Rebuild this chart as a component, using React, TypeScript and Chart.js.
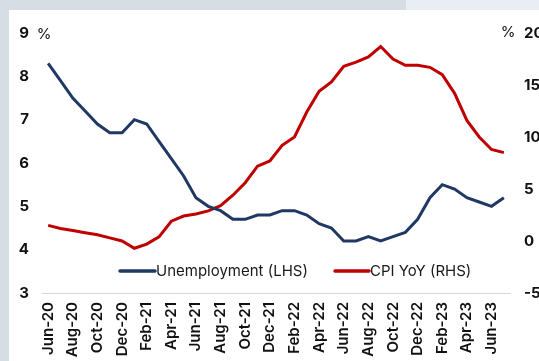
import React, { useEffect, useRef } from "react";
import { Chart, registerables } from "chart.js";

Chart.register(...registerables);

const months = [
  "Jun-20", "Jul-20", "Aug-20", "Sep-20", "Oct-20", "Nov-20", "Dec-20",
  "Jan-21", "Feb-21", "Mar-21", "Apr-21", "May-21", "Jun-21", "Jul-21", "Aug-21", "Sep-21", "Oct-21", "Nov-21", "Dec-21",
  "Jan-22", "Feb-22", "Mar-22", "Apr-22", "May-22", "Jun-22", "Jul-22", "Aug-22", "Sep-22", "Oct-22", "Nov-22", "Dec-22",
  "Jan-23", "Feb-23", "Mar-23", "Apr-23", "May-23", "Jun-23", "Jul-23",
];

const unemployment = [
  8.3, 7.9, 7.5, 7.2, 6.9, 6.7, 6.7,
  7.0, 6.9, 6.5, 6.1, 5.7, 5.2, 5.0, 4.9, 4.7, 4.7, 4.8, 4.8,
  4.9, 4.9, 4.8, 4.6, 4.5, 4.2, 4.2, 4.3, 4.2, 4.3, 4.4, 4.7,
  5.2, 5.5, 5.4, 5.2, 5.1, 5.0, 5.2,
];

const cpiYoY = [
  1.5, 1.2, 1.0, 0.8, 0.6, 0.3, 0.0,
  -0.7, -0.3, 0.4, 1.9, 2.4, 2.6, 2.9, 3.4, 4.4, 5.6, 7.2, 7.7,
  9.2, 10.0, 12.4, 14.4, 15.3, 16.8, 17.2, 17.7, 18.7, 17.5, 16.9, 16.9,
  16.7, 16.0, 14.2, 11.6, 10.0, 8.8, 8.5,
];

const seriesLabels = ["Unemployment (LHS)", "CPI YoY (RHS)"];
const leftTicks = { min: 3, max: 9, step: 1 };
const rightTicks = { min: -5, max: 20, step: 5 };
const unitLabel = "%";

const NAVY = "#203864";
const RED = "#c00000";
const FONT = "Inter, 'Open Sans', sans-serif";

const overlayPlugin = {
  id: "overlay",
  beforeDraw(chart: any) {
    const ctx = chart.ctx;
    ctx.save();
    ctx.fillStyle = "#ffffff";
    ctx.fillRect(0, 0, chart.width, chart.height);
    ctx.restore();
  },
  afterDraw(chart: any) {
    const ctx = chart.ctx;
    const area = chart.chartArea;
    ctx.save();
    // unit labels
    ctx.fillStyle = "#111";
    ctx.font = `400 15px ${FONT}`;
    ctx.textBaseline = "middle";
    ctx.textAlign = "center";
    ctx.fillText(unitLabel, area.left + 2, area.top + 1);
    ctx.fillText(unitLabel, area.right - 2, area.top - 1);
    // legend
    const legendY = area.top + 238;
    const items = [
      { x: area.left + 78, len: 35 },
      { x: area.left + 293, len: 34 },
    ];
    chart.data.datasets.forEach((ds: any, i: number) => {
      const it = items[i];
      ctx.strokeStyle = ds.borderColor;
      ctx.lineWidth = 3.5;
      ctx.lineCap = "round";
      ctx.beginPath();
      ctx.moveTo(it.x, legendY);
      ctx.lineTo(it.x + it.len, legendY);
      ctx.stroke();
      ctx.fillStyle = "#1a1a1a";
      ctx.textAlign = "left";
      ctx.font = `400 15px ${FONT}`;
      ctx.fillText(ds.label, it.x + it.len + 1, legendY);
    });
    ctx.restore();
  },
};

export default function App() {
  const canvasRef = useRef<HTMLCanvasElement | null>(null);

  useEffect(() => {
    if (!canvasRef.current) return;
    const chart = new Chart(canvasRef.current, {
      type: "line",
      data: {
        labels: months,
        datasets: [
          {
            label: seriesLabels[0],
            data: unemployment,
            borderColor: NAVY,
            backgroundColor: NAVY,
            borderWidth: 3,
            pointRadius: 0,
            tension: 0,
            yAxisID: "y",
          },
          {
            label: seriesLabels[1],
            data: cpiYoY,
            borderColor: RED,
            backgroundColor: RED,
            borderWidth: 3,
            pointRadius: 0,
            tension: 0,
            yAxisID: "y1",
          },
        ],
      },
      options: {
        responsive: false,
        animation: false,
        layout: { padding: { top: 17, left: 0, right: 0, bottom: 0 } },
        plugins: {
          legend: { display: false },
          tooltip: { enabled: false },
        },
        scales: {
          x: {
            type: "category",
            offset: true,
            grid: { display: false, drawTicks: false },
            border: { display: true, color: "#d9d9d9", width: 1 },
            ticks: {
              autoSkip: false,
              minRotation: 90,
              maxRotation: 90,
              padding: 9,
              color: "#111",
              font: { family: FONT, size: 15, weight: "600" },
              callback: (_v: any, i: number) => (i % 2 === 0 ? months[i] : ""),
            },
            afterFit: (s: any) => {
              s.height = 68;
            },
          },
          y: {
            position: "left",
            min: leftTicks.min,
            max: leftTicks.max,
            grid: { display: false, drawTicks: false },
            border: { display: false },
            ticks: {
              stepSize: leftTicks.step,
              padding: 13,
              color: "#111",
              font: { family: FONT, size: 15, weight: "bold" },
            },
            afterFit: (s: any) => {
              s.width = 33;
            },
          },
          y1: {
            position: "right",
            min: rightTicks.min,
            max: rightTicks.max,
            grid: { display: false, drawTicks: false },
            border: { display: false },
            ticks: {
              stepSize: rightTicks.step,
              padding: 14,
              color: "#111",
              font: { family: FONT, size: 15, weight: "bold" },
            },
            afterFit: (s: any) => {
              s.width = 29;
            },
          },
        },
      },
      plugins: [overlayPlugin],
    });
    return () => chart.destroy();
  }, []);

  return (
    <div style={{ position: "fixed", left: 0, top: 0, width: 539, height: 361, background: "#d6dde4", overflow: "hidden" }}>
      <div style={{ position: "absolute", left: 406, top: 0, width: 133, height: 10, background: "#e9eef5" }} />
      <canvas
        ref={canvasRef}
        width={530}
        height={351}
        style={{ position: "absolute", left: 9, top: 10, width: 530, height: 351 }}
      />
    </div>
  );
}
